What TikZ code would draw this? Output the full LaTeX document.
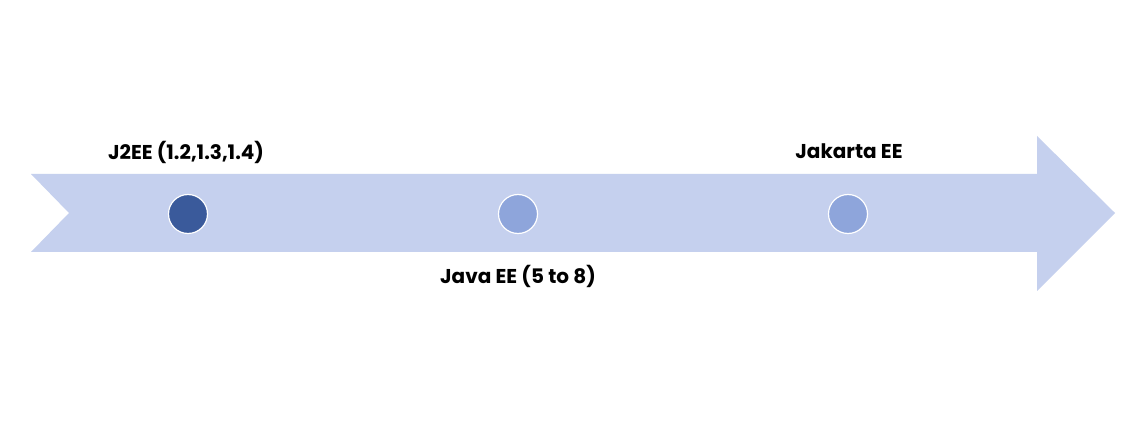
\documentclass[tikz,border=0pt]{standalone}
\usepackage{fontspec}
\setmainfont{Poppins}
\definecolor{arrowfill}{HTML}{C5D0EE}
\definecolor{darkdot}{HTML}{3A5A9B}
\definecolor{lightdot}{HTML}{8EA5DB}
\tikzset{
  dot/.style={circle, minimum size=39pt, inner sep=0pt, draw=white, line width=1.2pt},
  lbl/.style={font=\fontsize{20}{22}\selectfont\bfseries, text=black, inner sep=0pt}
}
\begin{document}
\begin{tikzpicture}[x=1pt, y=-1pt]
\useasboundingbox (0,0) rectangle (1131,427);
\fill[white] (0,0) rectangle (1131,427);
\fill[arrowfill] (31,174) -- (1037,174) -- (1037,136) -- (1115,213) -- (1037,291) -- (1037,252) -- (31,252) -- (69,213) -- cycle;
\node[dot, fill=darkdot] (d1) at (188,214) {};
\node[dot, fill=lightdot] (d2) at (518,214) {};
\node[dot, fill=lightdot] (d3) at (848,214) {};
\node[lbl] (t1) at (186,152) {J2EE (1.2,1.3,1.4)};
\node[lbl] (t2) at (518,276) {Java EE (5 to 8)};
\node[lbl] (t3) at (849,151) {Jakarta EE};
\end{tikzpicture}
\end{document}
